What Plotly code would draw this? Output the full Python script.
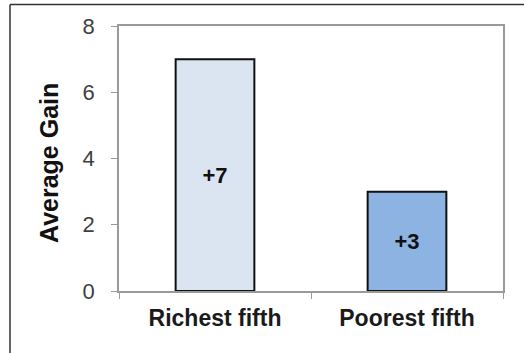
import plotly.graph_objects as go

# Average gain by income group
categories = ["Richest fifth", "Poorest fifth"]
gains = [7, 3]
gain_labels = ["+7", "+3"]
bar_colors = ["#dbe5f1", "#8db3e2"]
y_ticks = [0, 2, 4, 6, 8]

W, H = 524, 353
L, R, T, B = 119, 21, 26, 62
FONT = "Arial, Liberation Sans"

fig = go.Figure(
    go.Bar(
        x=categories,
        y=gains,
        text=gain_labels,
        textposition="inside",
        insidetextanchor="middle",
        textfont=dict(family=FONT, size=22, color="#111111", weight="bold"),
        marker=dict(color=bar_colors, line=dict(color="#111111", width=2)),
        width=0.41,
    )
)

fig.update_layout(
    width=W,
    height=H,
    margin=dict(l=L, r=R, t=T, b=B),
    paper_bgcolor="white",
    plot_bgcolor="white",
    showlegend=False,
    xaxis=dict(
        showline=True,
        linecolor="#9a9a9a",
        linewidth=1.5,
        mirror=True,
        ticks="outside",
        tickson="boundaries",
        ticklen=6,
        tickcolor="#9a9a9a",
        ticklabelstandoff=6,
        tickfont=dict(family=FONT, size=23, color="#1a1a1a", weight="bold"),
        showgrid=False,
    ),
    yaxis=dict(
        range=[0, 8],
        tickvals=y_ticks,
        showline=True,
        linecolor="#9a9a9a",
        linewidth=1.5,
        mirror=True,
        ticks="outside",
        ticklen=6,
        tickcolor="#9a9a9a",
        ticklabelstandoff=12,
        tickfont=dict(family=FONT, size=22, color="#404040"),
        showgrid=False,
        zeroline=False,
    ),
    annotations=[
        dict(
            text="<b>Average Gain</b>",
            textangle=-90,
            xref="paper",
            yref="paper",
            x=(49 - L) / (W - L - R),
            y=(291 - 163) / (H - T - B),
            xanchor="center",
            yanchor="middle",
            showarrow=False,
            font=dict(family=FONT, size=25, color="#111111"),
        )
    ],
)

# Outer chart frame (top and left edges)
pw, ph = W - L - R, H - T - B
fx = (10 - L) / pw
fy = (H - B - 4.5) / ph
fig.add_shape(type="line", xref="paper", yref="paper", x0=fx, y0=fy, x1=(W - L + 5) / pw, y1=fy,
              line=dict(color="#333333", width=1.5))
fig.add_shape(type="line", xref="paper", yref="paper", x0=fx, y0=fy, x1=fx, y1=-(B + 5) / ph,
              line=dict(color="#333333", width=1.5))

fig.write_html("out.html")
